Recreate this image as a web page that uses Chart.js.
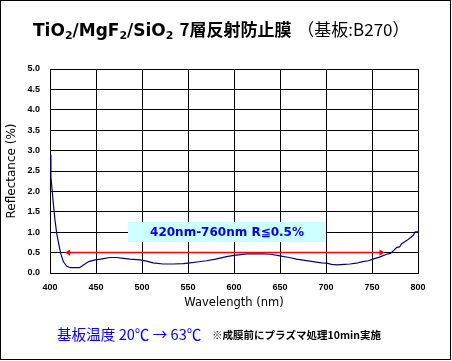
<!DOCTYPE html>
<html>
<head>
<meta charset="utf-8">
<script src="https://cdn.jsdelivr.net/npm/chart.js@4/dist/chart.umd.min.js"></script>
<style>
  html, body { margin: 0; padding: 0; background: #fff; }
  #wrap { position: relative; width: 452px; height: 361px; overflow: hidden; background: #fff; }
  #c { position: absolute; left: 0; top: 0; }
  #frame { position: absolute; left: 0; top: 0; width: 451px; height: 360px; border: 1px solid #000; box-sizing: border-box; pointer-events: none; }
</style>
</head>
<body>
<div id="wrap">
  <canvas id="c" width="452" height="361"></canvas>
  <div id="frame"></div>
</div>
<script>
// ---- data ----
const wavelengths = [400, 401, 402, 403.6, 405.4, 407.3, 409, 411.6, 414.5, 418, 422, 432, 436, 442, 449, 455, 465, 472, 480, 487, 498, 505, 512, 523, 534, 545, 552, 560, 570, 580, 592, 600, 607, 614, 625, 632, 640, 650, 660, 668, 677, 686, 695, 701, 706, 712, 720, 726, 733, 740, 746, 751, 758, 766, 770, 774, 777, 780, 782, 788, 792, 795, 797, 800];
const reflectance = [2.9, 2.35, 2.1, 1.71, 1.3, 0.97, 0.77, 0.48, 0.28, 0.17, 0.13, 0.13, 0.19, 0.28, 0.32, 0.34, 0.38, 0.38, 0.36, 0.34, 0.32, 0.29, 0.25, 0.22, 0.22, 0.23, 0.25, 0.27, 0.30, 0.34, 0.40, 0.43, 0.45, 0.47, 0.47, 0.47, 0.46, 0.42, 0.38, 0.34, 0.31, 0.28, 0.25, 0.24, 0.21, 0.20, 0.21, 0.22, 0.24, 0.28, 0.30, 0.34, 0.39, 0.46, 0.48, 0.56, 0.63, 0.64, 0.71, 0.80, 0.87, 0.93, 1.01, 1.01];
const specWavelengths = [420, 760];
const specLevel = [0.5, 0.5];
const xTickRange = [400, 800, 50];   // min, max, step
const yTickRange = [0, 5, 0.5];      // min, max, step
const specLabel = '420nm-760nm R≦0.5%';
const xTitle = 'Wavelength (nm)';
const yTitle = 'Reflectance (%)';
// title pieces: [text, kind] where kind: 'b' bold latin, 's' subscript, 'jb' bold japanese, 'j' japanese
const titleParts = [['TiO', 'b'], ['2', 's'], ['/MgF', 'b'], ['2', 's'], ['/SiO', 'b'], ['2', 's'], [' ', 'b'], ['7層反射防止膜', 'jb'], [' ', 'b'], ['（基板:B270）', 'j']];
const footMain = '基板温度 20℃ → 63℃';
const footNote = '※成膜前にプラズマ処理10min実施';

const curve = wavelengths.map((w, i) => ({ x: w, y: reflectance[i] }));
const spec = specWavelengths.map((w, i) => ({ x: w, y: specLevel[i] }));

const LATIN = '"DejaVu Sans", "Noto Sans CJK JP", sans-serif';
const JP = '"Noto Sans CJK JP", sans-serif';

const labelBox = {
  id: 'labelBox',
  beforeDatasetsDraw(chart) {
    const xs = chart.scales.x, ys = chart.scales.y, ctx = chart.ctx;
    const x1 = Math.round(xs.getPixelForValue(485)), x2 = Math.round(xs.getPixelForValue(699.5));
    const y1 = Math.round(ys.getPixelForValue(1.26)), y2 = Math.round(ys.getPixelForValue(0.755));
    ctx.save();
    ctx.fillStyle = '#ccffff';
    ctx.fillRect(x1, y1, x2 - x1, y2 - y1);
    ctx.fillStyle = '#0000ee';
    ctx.font = 'bold 12px ' + LATIN;
    ctx.textAlign = 'center';
    ctx.textBaseline = 'middle';
    ctx.fillText(specLabel, (x1 + x2) / 2, (y1 + y2) / 2 + 0.5);
    ctx.restore();
  }
};

const texts = {
  id: 'texts',
  afterDraw(chart) {
    const ctx = chart.ctx;
    ctx.save();
    ctx.textAlign = 'left';
    ctx.textBaseline = 'alphabetic';
    ctx.fillStyle = '#000';
    let x = 33;
    const base = 36;
    titleParts.forEach(([t, k]) => {
      let dy = 0;
      if (k === 'b') ctx.font = 'bold 17px ' + LATIN;
      else if (k === 's') { ctx.font = 'bold 11px ' + LATIN; dy = 3; }
      else if (k === 'jb') ctx.font = 'bold 17px ' + JP;
      else ctx.font = '17px ' + JP;
      ctx.fillText(t, x, base + dy);
      x += ctx.measureText(t).width;
    });
    ctx.font = '14.6px ' + JP;
    ctx.fillStyle = '#0000ff';
    ctx.fillText(footMain, 57, 340);
    ctx.font = 'bold 10.5px ' + JP;
    ctx.fillStyle = '#000';
    ctx.fillText(footNote, 212, 338.5);
    ctx.restore();
  }
};

new Chart(document.getElementById('c'), {
  type: 'line',
  data: {
    datasets: [
      {
        data: spec,
        borderColor: '#ff0000',
        backgroundColor: '#ff0000',
        borderWidth: 1.5,
        pointStyle: 'triangle',
        pointRotation: [270, 90],
        pointRadius: 3.5,
        pointBorderWidth: 0,
        pointBackgroundColor: '#ff0000'
      },
      {
        data: curve,
        borderColor: '#000080',
        borderWidth: 1.2,
        pointRadius: 0
      }
    ]
  },
  options: {
    responsive: false,
    animation: false,
    devicePixelRatio: 1,
    layout: { padding: { left: 0, top: 69, right: 34, bottom: 48 } },
    plugins: { legend: { display: false }, tooltip: { enabled: false } },
    scales: {
      x: {
        type: 'linear',
        min: xTickRange[0], max: xTickRange[1],
        afterFit: (s) => { s.height = 40; },
        grid: { color: '#000', drawTicks: false },
        border: { color: '#000' },
        ticks: {
          stepSize: xTickRange[2],
          color: '#000', padding: 9, maxRotation: 0,
          font: { family: '"Liberation Sans", Arial, sans-serif', size: 9, weight: 'bold' }
        },
        title: {
          display: true, text: xTitle, color: '#000',
          font: { family: '"DejaVu Sans", sans-serif', size: 11.5 },
          padding: { top: 0, bottom: 3 }
        }
      },
      y: {
        min: yTickRange[0], max: yTickRange[1],
        afterFit: (s) => { s.width = 50; },
        grid: { color: '#000', drawTicks: false },
        border: { color: '#000' },
        ticks: {
          stepSize: yTickRange[2],
          color: '#000', padding: 10,
          font: { family: '"Liberation Sans", Arial, sans-serif', size: 9, weight: 'bold' },
          callback: (v) => Number(v).toFixed(1)
        },
        title: {
          display: true, text: yTitle, color: '#000',
          font: { family: '"DejaVu Sans", sans-serif', size: 12 },
          padding: { top: 5, bottom: 0 }
        }
      }
    }
  },
  plugins: [labelBox, texts]
});
</script>
</body>
</html>
